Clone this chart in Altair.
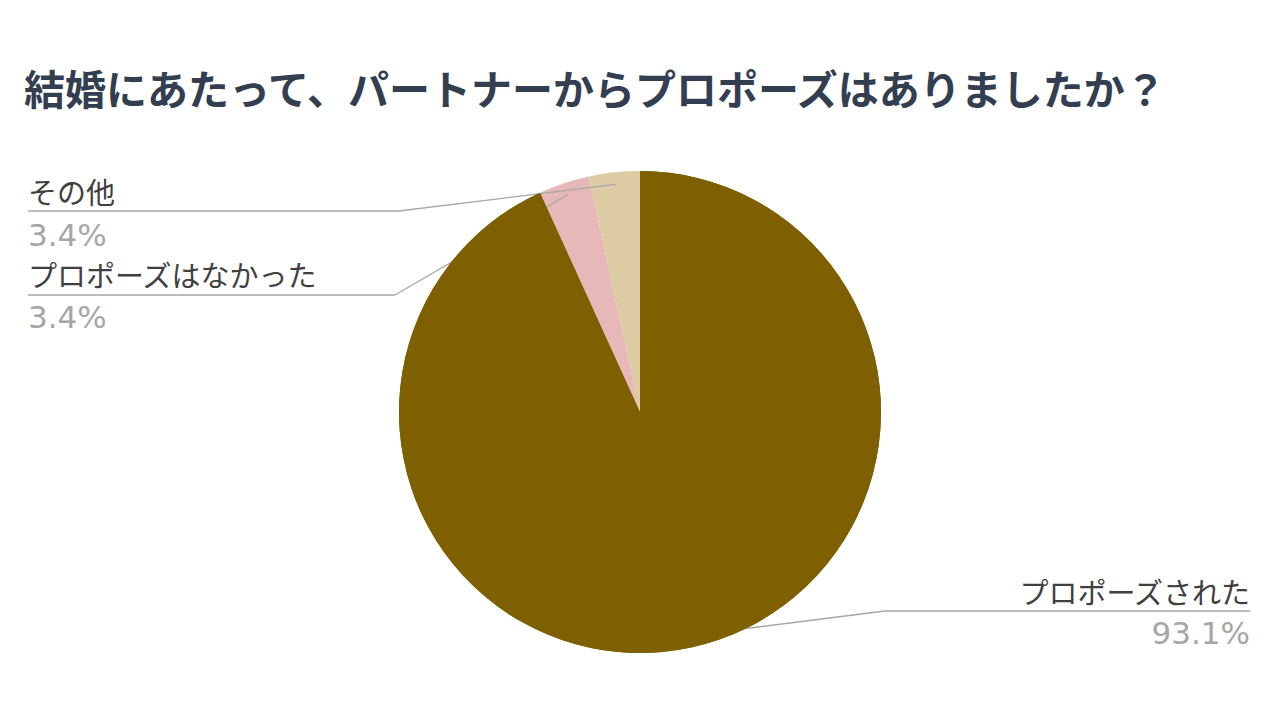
import math
import altair as alt
import pandas as pd

# ---- data ----
categories = ["プロポーズされた", "プロポーズはなかった", "その他"]
values = [93.1, 3.4, 3.4]
pct_labels = ["93.1%", "3.4%", "3.4%"]
colors = ["#7F6000", "#E6B9B8", "#DDCBA4"]
title_text = "結婚にあたって、パートナーからプロポーズはありましたか？"

# ---- layout (chart pixel space) ----
W, H = 1264, 704
CX, CY, R = 632, 404, 241
label_x = [1242, 20, 20]
label_align = ["right", "left", "left"]
name_y = [587, 270, 187]
pct_y = [627, 311, 229]
elbow_x = [877, 387, 391]
line_y = [603, 287, 203]
line_end_x = [1242, 20, 20]

# leader-line start = slice centroid at 0.95 R on mid angle
total = sum(values)
cum = 0.0
starts = []
for v in values:
    mid = (cum + v / 2) / total * 2 * math.pi
    starts.append((CX + 0.95 * R * math.sin(mid), CY - 0.95 * R * math.cos(mid)))
    cum += v

pie_df = pd.DataFrame({"name": categories, "value": values, "order": list(range(len(values)))})

seg_rows = []
for i in range(len(categories)):
    sx, sy = starts[i]
    seg_rows.append({"x": sx, "y": sy, "x2": elbow_x[i], "y2": line_y[i]})
    seg_rows.append({"x": elbow_x[i], "y": line_y[i], "x2": line_end_x[i], "y2": line_y[i]})
seg_df = pd.DataFrame(seg_rows)

lab_df = pd.DataFrame({
    "name": categories, "pct": pct_labels, "lx": label_x, "align": label_align,
    "ny": name_y, "py": pct_y,
})

xs = alt.Scale(domain=[0, W], range=[0, W], nice=False, zero=False)
ys = alt.Scale(domain=[0, H], range=[0, H], nice=False, zero=False)

color_enc = alt.Color("name:N", scale=alt.Scale(domain=categories, range=colors), legend=None)

arc_all = alt.Chart(pie_df).mark_arc(outerRadius=R).encode(
    theta=alt.Theta("value:Q", stack=True),
    color=color_enc,
    order=alt.Order("order:Q"),
    x=alt.value(CX), y=alt.value(CY),
)

arc_top = alt.Chart(pie_df).mark_arc(outerRadius=R).encode(
    theta=alt.Theta("value:Q", stack=True),
    color=color_enc,
    order=alt.Order("order:Q"),
    fillOpacity=alt.condition(alt.datum.name == categories[0], alt.value(1), alt.value(0)),
    x=alt.value(CX), y=alt.value(CY),
)

lines = alt.Chart(seg_df).mark_rule(color="#A6A6A6", strokeWidth=1.3).encode(
    x=alt.X("x:Q", scale=xs, axis=None),
    y=alt.Y("y:Q", scale=ys, axis=None),
    x2="x2:Q", y2="y2:Q",
)

def text_layers(align):
    src = alt.Chart(lab_df).transform_filter(alt.datum.align == align)
    names = src.mark_text(align=align, baseline="middle", font="Noto Sans CJK JP",
                          fontSize=29, color="#404040").encode(
        x=alt.X("lx:Q", scale=xs, axis=None),
        y=alt.Y("ny:Q", scale=ys, axis=None),
        text="name:N",
    )
    pcts = src.mark_text(align=align, baseline="middle", font="DejaVu Sans",
                         fontSize=31, color="#A6A6A6").encode(
        x=alt.X("lx:Q", scale=xs, axis=None),
        y=alt.Y("py:Q", scale=ys, axis=None),
        text="pct:N",
    )
    return names + pcts

title = alt.Chart(pd.DataFrame({"t": [title_text]})).mark_text(
    align="left", baseline="middle", font="Noto Sans CJK JP", fontSize=41,
    fontWeight="bold", color="#333F50",
).encode(x=alt.value(16), y=alt.value(85), text="t:N")

chart = alt.layer(
    arc_all, lines, arc_top, text_layers("left"), text_layers("right"), title
).properties(
    width=W, height=H, padding=0, background="white",
    autosize=alt.AutoSizeParams(type="none")
).configure_view(stroke=None)

chart.save("out.html", embed_options={"renderer": "svg", "actions": False})
